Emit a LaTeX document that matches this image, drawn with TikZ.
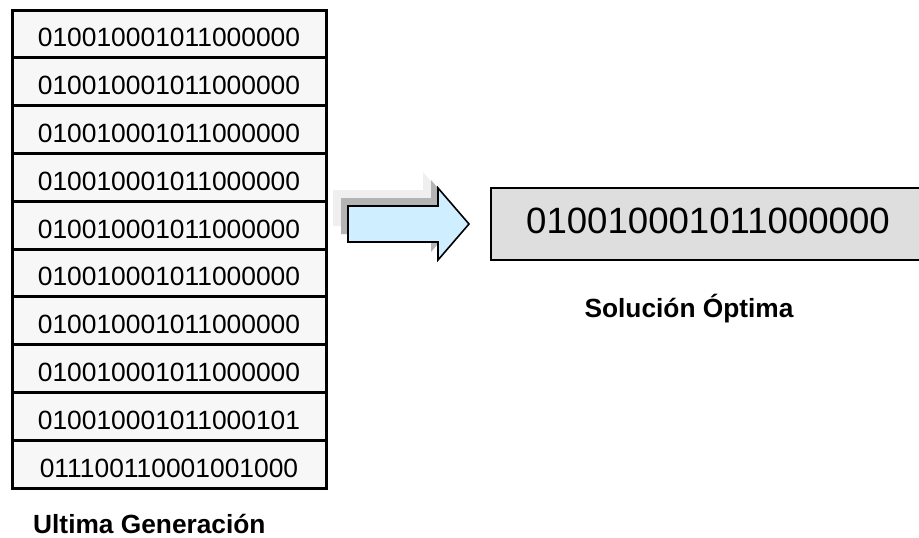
\documentclass[tikz,border=0pt]{standalone}
\usepackage{fontspec}
\setmainfont{Liberation Sans}
\usetikzlibrary{positioning}
\definecolor{rowgray}{HTML}{F7F7F7}
\definecolor{boxgray}{HTML}{DEDEDE}
\definecolor{arrowblue}{HTML}{CFEEFF}
\definecolor{shadowdark}{HTML}{B4B4B4}
\definecolor{shadowlight}{HTML}{EFEFEF}

\begin{document}
\begin{tikzpicture}[x=1pt,y=-1pt,
                       gen row/.style={draw,line width=3pt,fill=rowgray,inner sep=0pt,
                                       minimum width=314pt,minimum height=47.8pt,
                                       font=\fontsize{26.4}{30}\selectfont,
                                       text height=30pt,text depth=4.2pt},
                       best box/.style={draw,line width=1.6pt,fill=boxgray,inner sep=0pt,
                                        minimum width=434pt,minimum height=72pt,
                                        font=\fontsize{36.6}{40}\selectfont,
                                        text height=26.2pt,text depth=7pt},
                       caption/.style={font=\fontsize{26.3}{30}\bfseries,inner sep=0pt}
                      ]
   \useasboundingbox (0,0) rectangle (919,538);
   % last generation
   \node[gen row] (r1) at (169,33.9) {010010001011000000};
   \node[gen row] (r2) at (169,81.7) {010010001011000000};
   \node[gen row] (r3) at (169,129.5) {010010001011000000};
   \node[gen row] (r4) at (169,177.3) {010010001011000000};
   \node[gen row] (r5) at (169,225.1) {010010001011000000};
   \node[gen row] (r6) at (169,272.9) {010010001011000000};
   \node[gen row] (r7) at (169,320.7) {010010001011000000};
   \node[gen row] (r8) at (169,368.5) {010010001011000000};
   \node[gen row] (r9) at (169,416.3) {010010001011000101};
   \node[gen row] (r10) at (169,464.1) {011100110001001000};
   \node[caption,anchor=base west] (gen) at (33,533) {Ultima Generación};
   % block arrow with its shadows
   \def\blockarrow{(348,206) -- (438,206) -- (438,188) -- (469,224) -- (438,260) -- (438,242) -- (348,242) -- cycle}
   \fill[shadowlight,shift={(-15,-16)}] \blockarrow;
   \fill[shadowdark,shift={(-7,-8)}] \blockarrow;
   \draw[line width=1.6pt,fill=arrowblue,line join=miter] \blockarrow;
   % best solution
   \node[best box] (best) at (708,224) {010010001011000000};
   \node[caption,anchor=base] (sol) at (689,317) {Solución Óptima};
 \end{tikzpicture}
\end{document}
